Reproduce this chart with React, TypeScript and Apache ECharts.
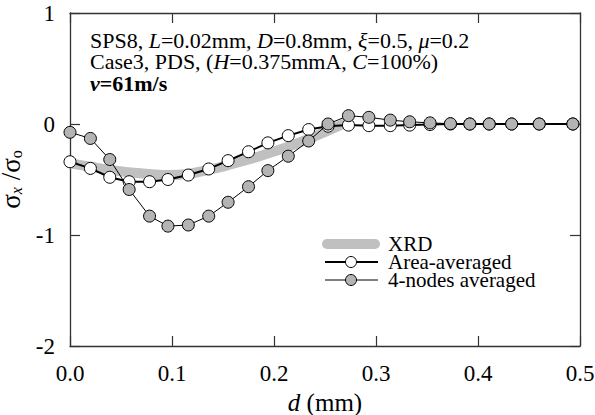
import React, { useEffect, useRef } from "react";
import * as echarts from "echarts";

// Depth positions (mm) of the computed points
const dValues = [
  0.0, 0.02, 0.039, 0.058, 0.078, 0.096, 0.116, 0.136, 0.155, 0.175, 0.194, 0.214,
  0.234, 0.253, 0.273, 0.293, 0.314, 0.333, 0.353, 0.373, 0.392, 0.411, 0.433, 0.46, 0.493,
];
// Area-averaged sigma_x / sigma_o
const areaAveraged = [
  -0.34, -0.4, -0.48, -0.52, -0.52, -0.5, -0.46, -0.405, -0.33, -0.25, -0.17, -0.105,
  -0.05, -0.02, -0.01, -0.015, -0.015, -0.01, -0.005, 0, 0, 0, 0, 0, 0,
];
// 4-nodes averaged sigma_x / sigma_o
const fourNodes = [
  -0.075, -0.13, -0.32, -0.59, -0.83, -0.92, -0.91, -0.83, -0.705, -0.565, -0.42, -0.29,
  -0.153, 0.0, 0.075, 0.06, 0.035, 0.02, 0.01, 0.003, 0, 0, 0, 0, 0,
];
// XRD measurement curve
const xrdD = [0, 0.02, 0.039, 0.058, 0.078, 0.096, 0.116, 0.135, 0.155, 0.175, 0.194, 0.214, 0.234, 0.253, 0.268];
const xrdValues = [
  -0.355, -0.385, -0.415, -0.435, -0.45, -0.46, -0.45, -0.415, -0.37, -0.32, -0.265, -0.205,
  -0.135, -0.06, 0.0,
];

const seriesNames = ["XRD", "Area-averaged", "4-nodes averaged"];

const SERIF = "'Liberation Serif', 'Times New Roman', serif";

export default function App() {
  const ref = useRef<HTMLDivElement>(null);

  useEffect(() => {
    if (!ref.current) return;
    const chart = echarts.init(ref.current, null, { renderer: "svg" });

    const pairs = (xs: number[], ys: number[]) => xs.map((x, i) => [x, ys[i]]);

    const axisLine = { show: true, onZero: false, lineStyle: { color: "#333", width: 1.3 } };
    const tickStyle = { show: true, inside: true, length: 10, lineStyle: { color: "#333", width: 1.2 } };

    const legendY = [244, 262, 280];
    const legendText = (i: number) => ({
      type: "text",
      x: 388,
      y: legendY[i],
      style: {
        text: seriesNames[i],
        fontFamily: SERIF,
        fontSize: 21,
        lineHeight: 18,
        fill: "#000",
        verticalAlign: "middle",
      },
    });

    chart.setOption({
      animation: false,
      backgroundColor: "#fff",
      grid: { left: 70, right: 15, top: 13, bottom: 69, containLabel: false, outerBoundsMode: "none" },
      xAxis: [
        {
          type: "value",
          min: 0,
          max: 0.5,
          interval: 0.1,
          position: "bottom",
          axisLine,
          axisTick: tickStyle,
          splitLine: { show: false },
          axisLabel: {
            margin: 16,
            fontFamily: SERIF,
            fontSize: 23,
            color: "#000",
            formatter: (v: number) => v.toFixed(1),
          },
          name: "{i|d} (mm)",
          nameLocation: "middle",
          nameGap: 39,
          nameTextStyle: {
            fontFamily: SERIF,
            fontSize: 25,
            lineHeight: 24,
            color: "#000",
            rich: {
              i: { fontFamily: SERIF, fontSize: 25, fontStyle: "italic", lineHeight: 24, color: "#000" },
            },
          },
        },
        {
          type: "value",
          min: 0,
          max: 0.5,
          interval: 0.1,
          position: "top",
          axisLine,
          axisTick: tickStyle,
          axisLabel: { show: false },
          splitLine: { show: false },
        },
      ],
      yAxis: [
        {
          type: "value",
          min: -2,
          max: 1,
          interval: 1,
          position: "left",
          axisLine,
          axisTick: tickStyle,
          splitLine: { show: false },
          axisLabel: { margin: 15, fontFamily: SERIF, fontSize: 23, color: "#000" },
          name: "{s|σ}{x|x}{s| /σ}{o|o}",
          nameLocation: "middle",
          nameRotate: 90,
          nameGap: 26,
          nameTextStyle: {
            fontFamily: SERIF,
            fontSize: 27,
            lineHeight: 26,
            color: "#000",
            rich: {
              s: { fontFamily: SERIF, fontSize: 27, color: "#000", lineHeight: 26 },
              x: {
                fontFamily: SERIF,
                fontSize: 16,
                fontStyle: "italic",
                color: "#000",
                verticalAlign: "bottom",
                lineHeight: 16,
              },
              o: {
                fontFamily: SERIF,
                fontSize: 16,
                color: "#000",
                verticalAlign: "bottom",
                lineHeight: 16,
              },
            },
          },
        },
        {
          type: "value",
          min: -2,
          max: 1,
          interval: 1,
          position: "right",
          axisLine,
          axisTick: tickStyle,
          axisLabel: { show: false },
          splitLine: { show: false },
        },
      ],
      series: [
        {
          name: seriesNames[0],
          type: "line",
          data: pairs(xrdD, xrdValues),
          smooth: 0.4,
          symbol: "none",
          lineStyle: { color: "#c0c0c0", width: 10, cap: "round", join: "round" },
          z: 1,
        },
        {
          name: seriesNames[1],
          type: "line",
          data: pairs(dValues, areaAveraged),
          symbol: "circle",
          symbolSize: 12,
          lineStyle: { color: "#000", width: 2 },
          itemStyle: { color: "#fff", borderColor: "#000", borderWidth: 1 },
          z: 2,
        },
        {
          name: seriesNames[2],
          type: "line",
          data: pairs(dValues, fourNodes),
          symbol: "circle",
          symbolSize: 12,
          lineStyle: { color: "#000", width: 1 },
          itemStyle: { color: "#b4b4b4", borderColor: "#000", borderWidth: 1 },
          z: 3,
        },
      ],
      graphic: [
        {
          type: "text",
          left: 90,
          top: 29,
          style: {
            text:
              "{n|SPS8, }{i|L}{n|=0.02mm, }{i|D}{n|=0.8mm, }{i|ξ}{n|=0.5, }{i|μ}{n|=0.2}\n" +
              "{n|Case3, PDS, (}{i|H}{n|=0.375mmA, }{i|C}{n|=100%)}\n" +
              "{bi|v}{b|=61m/s}",
            fontFamily: SERIF,
            fontSize: 22,
            fill: "#000",
            rich: {
              n: { fontFamily: SERIF, fontSize: 22, lineHeight: 21.5, fill: "#000" },
              i: { fontFamily: SERIF, fontSize: 22, fontStyle: "italic", lineHeight: 21.5, fill: "#000" },
              b: { fontFamily: SERIF, fontSize: 22, fontWeight: "bold", lineHeight: 21.5, fill: "#000" },
              bi: {
                fontFamily: SERIF,
                fontSize: 22,
                fontWeight: "bold",
                fontStyle: "italic",
                lineHeight: 21.5,
                fill: "#000",
              },
            },
          },
        },
        // Legend
        {
          type: "line",
          shape: { x1: 327, y1: legendY[0], x2: 375, y2: legendY[0] },
          style: { stroke: "#c0c0c0", lineWidth: 10, lineCap: "round" },
        },
        legendText(0),
        {
          type: "line",
          shape: { x1: 325, y1: legendY[1], x2: 378, y2: legendY[1] },
          style: { stroke: "#000", lineWidth: 2 },
        },
        {
          type: "circle",
          shape: { cx: 351, cy: legendY[1], r: 5.5 },
          style: { fill: "#fff", stroke: "#000", lineWidth: 1 },
        },
        legendText(1),
        {
          type: "line",
          shape: { x1: 325, y1: legendY[2], x2: 378, y2: legendY[2] },
          style: { stroke: "#000", lineWidth: 1 },
        },
        {
          type: "circle",
          shape: { cx: 351, cy: legendY[2], r: 5.5 },
          style: { fill: "#b4b4b4", stroke: "#000", lineWidth: 1 },
        },
        legendText(2),
      ],
    });

    return () => chart.dispose();
  }, []);

  return (
    <div
      ref={ref}
      style={{ position: "fixed", left: 0, top: 0, width: 595, height: 415, background: "#fff" }}
    />
  );
}
